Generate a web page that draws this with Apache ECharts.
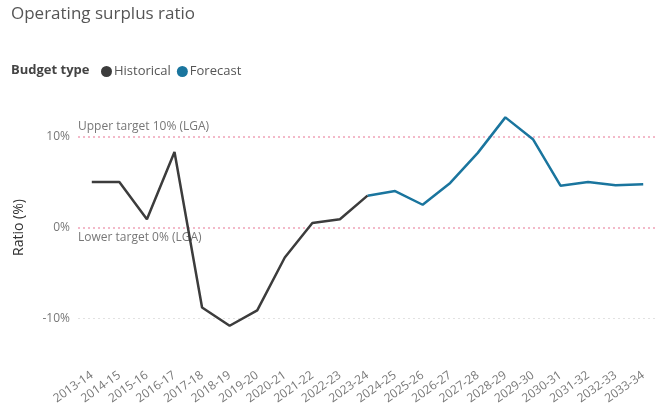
<!DOCTYPE html>
<html>
<head>
<meta charset="utf-8">
<script src="https://cdn.jsdelivr.net/npm/echarts@6/dist/echarts.min.js"></script>
<style>
  html, body { margin: 0; padding: 0; background: #fff; }
  #main { width: 657px; height: 408px; }
</style>
</head>
<body>
<div id="main"></div>
<script>
var years = ['2013-14', '2014-15', '2015-16', '2016-17', '2017-18', '2018-19', '2019-20',
  '2020-21', '2021-22', '2022-23', '2023-24', '2024-25', '2025-26', '2026-27', '2027-28',
  '2028-29', '2029-30', '2030-31', '2031-32', '2032-33', '2033-34'];
// ratio in %
var historical = [5.0, 5.0, 0.9, 8.3, -8.8, -10.8, -9.1, -3.3, 0.5, 0.9, 3.5,
  null, null, null, null, null, null, null, null, null, null];
var forecast = [null, null, null, null, null, null, null, null, null, null, 3.5,
  4.0, 2.5, 4.9, 8.2, 12.1, 9.7, 4.6, 5.0, 4.65, 4.75];
var yTicks = [-10, 0, 10];
var targets = [
  { name: 'Upper target 10% (LGA)', value: 10, pos: 'insideStartTop' },
  { name: 'Lower target 0% (LGA)', value: 0, pos: 'insideStartBottom' }
];

var font = '"Open Sans", "Noto Sans", sans-serif';
var myChart = echarts.init(document.getElementById('main'));

var refLines = targets.map(function (t) {
    return {
        yAxis: t.value,
        lineStyle: { color: '#f0a3b8', type: [2, 3], width: 1.5 },
        label: {
            show: true, position: t.pos, formatter: t.name,
            color: '#777', fontSize: 12, fontFamily: font, distance: [0, 4]
        }
    };
});
// plain gridline at -10
refLines.push({
    yAxis: -10,
    lineStyle: { color: '#e2e2e2', type: [2, 3], width: 1 },
    label: { show: false }
});

option = {
    textStyle: { fontFamily: font },
    title: [{
        text: 'Operating surplus ratio',
        left: 6, top: 1,
        textStyle: { fontSize: 17, fontWeight: 'normal', color: '#555', fontFamily: font }
    }, {
        text: 'Budget type',
        left: 6, top: 59,
        textStyle: { fontSize: 13, fontWeight: 'bold', color: '#444', fontFamily: font }
    }],
    legend: {
        left: 96, top: 60,
        icon: 'circle',
        itemWidth: 11, itemHeight: 11, itemGap: 6,
        textStyle: { fontSize: 13, color: '#555', fontFamily: font, padding: [0, 0, 0, -3] },
        data: ['Historical', 'Forecast']
    },
    grid: { left: 78, right: -12, top: 91, bottom: 44 },
    xAxis: {
        type: 'category',
        data: years,
        boundaryGap: true,
        axisLine: { show: false },
        axisTick: { show: false },
        axisLabel: {
            interval: 0, rotate: 35, margin: 10,
            color: '#777', fontSize: 12, fontFamily: font
        }
    },
    yAxis: {
        type: 'value',
        min: -15, max: 15, interval: 5,
        name: 'Ratio (%)',
        nameLocation: 'middle',
        nameGap: 52,
        nameTextStyle: { fontSize: 14, color: '#333', fontFamily: font },
        axisLine: { show: false },
        axisTick: { show: false },
        axisLabel: {
            color: '#777', fontSize: 12, fontFamily: font,
            formatter: function (v) { return yTicks.indexOf(v) >= 0 ? v + '%' : ''; }
        },
        splitLine: { show: false }
    },
    series: [{
        name: 'Historical',
        type: 'line',
        data: historical,
        showSymbol: false,
        symbol: 'circle',
        color: '#3c3c3c',
        lineStyle: { width: 2.5, color: '#3c3c3c' },
        z: 4
    }, {
        name: 'Forecast',
        type: 'line',
        data: forecast,
        showSymbol: false,
        symbol: 'circle',
        color: '#1a759e',
        lineStyle: { width: 2.5, color: '#1a759e' },
        z: 3
    }, {
        name: 'refs',
        type: 'line',
        data: [],
        z: 1,
        markLine: {
            silent: true,
            symbol: 'none',
            z: 1,
            data: refLines
        }
    }]
};

myChart.setOption(option);
</script>
</body>
</html>
